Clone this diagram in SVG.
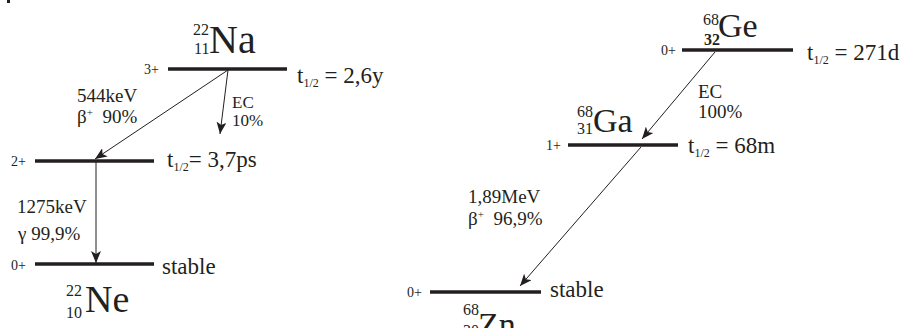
<svg xmlns="http://www.w3.org/2000/svg" width="901" height="328" viewBox="0 0 901 328">
<style>
text{font-family:"Liberation Serif","DejaVu Serif",serif;fill:#231f20}
.lvl{stroke:#231f20;stroke-width:3.5}
.arr{stroke:#231f20;stroke-width:1;fill:none;marker-end:url(#ah)}
.spin{font-size:14px}
.lab{font-size:19px}
.big{font-size:23px}
.sub{font-size:12px}
.iso{font-size:16px}
</style>
<defs>
<marker id="ah" viewBox="0 0 12 10" refX="12" refY="5" markerWidth="12" markerHeight="10" markerUnits="userSpaceOnUse" orient="auto">
<path d="M0,0 L12,5 L0,10 L3,5 Z" fill="#231f20"/>
</marker>
</defs>
<rect x="7" y="0" width="3" height="3" fill="#231f20"/>
<g id="na22">
<line class="lvl" x1="168" y1="69" x2="287" y2="69"/>
<text class="spin" x="144" y="74">3+</text>
<text class="iso" x="193" y="35">22</text>
<text class="iso" x="194" y="54">11</text>
<text x="209" y="53" font-size="40">Na</text>
<text class="big" x="297" y="83">t<tspan class="sub" dy="4">1/2</tspan><tspan dy="-4"> = 2,6y</tspan></text>
</g>
<g id="ne22-2">
<line class="lvl" x1="35" y1="161" x2="154" y2="161"/>
<text class="spin" x="11" y="166">2+</text>
<text class="big" x="167" y="167">t<tspan class="sub" dy="4">1/2</tspan><tspan dy="-4">= 3,7ps</tspan></text>
</g>
<g id="ne22-0">
<line class="lvl" x1="35" y1="264" x2="154" y2="264"/>
<text class="spin" x="11" y="270">0+</text>
<text class="big" x="162" y="274">stable</text>
<text class="iso" x="66" y="296">22</text>
<text class="iso" x="66" y="318">10</text>
<text x="85" y="312" font-size="38">Ne</text>
</g>
<g id="ge68">
<line class="lvl" x1="682" y1="50" x2="793" y2="50"/>
<text class="spin" x="661" y="55">0+</text>
<text class="iso" x="703" y="25">68</text>
<text class="iso" x="704" y="45" font-weight="bold">32</text>
<text x="718" y="37" font-size="34">Ge</text>
<text class="big" x="807" y="60">t<tspan class="sub" dy="4">1/2</tspan><tspan dy="-4"> = 271d</tspan></text>
</g>
<g id="ga68">
<line class="lvl" x1="568" y1="145" x2="678" y2="145"/>
<text class="spin" x="546" y="150">1+</text>
<text class="iso" x="577" y="117">68</text>
<text class="iso" x="577" y="134">31</text>
<text x="593" y="132" font-size="34">Ga</text>
<text class="big" x="688" y="153">t<tspan class="sub" dy="4">1/2</tspan><tspan dy="-4"> = 68m</tspan></text>
</g>
<g id="zn68">
<line class="lvl" x1="430" y1="292" x2="541" y2="292"/>
<text class="spin" x="407" y="297">0+</text>
<text class="big" x="550" y="297">stable</text>
<text class="iso" x="463" y="315">68</text>
<text class="iso" x="463" y="336">30</text>
<text x="478" y="336" font-size="34">Zn</text>
</g>
<g id="connectors">
<line class="arr" x1="228" y1="70" x2="95" y2="159"/>
<line class="arr" x1="228" y1="70" x2="220" y2="134"/>
<line class="arr" x1="96" y1="162" x2="96" y2="263"/>
<line class="arr" x1="715" y1="52" x2="642" y2="139"/>
<line class="arr" x1="641" y1="147" x2="520" y2="286"/>
<text class="lab" x="77" y="102">544keV</text>
<text class="lab" x="77" y="123">β<tspan font-size="11" dy="-7">+</tspan><tspan dy="7" xml:space="preserve">  90%</tspan></text>
<text x="232" y="108" font-size="17">EC</text>
<text x="232" y="126" font-size="17">10%</text>
<text class="lab" x="17" y="213">1275keV</text>
<text class="lab" x="18" y="240">γ 99,9%</text>
<text class="lab" x="698" y="98">EC</text>
<text class="lab" x="698" y="118">100%</text>
<text class="lab" x="468" y="203">1,89MeV</text>
<text class="lab" x="468" y="225">β<tspan font-size="11" dy="-7">+</tspan><tspan dy="7" xml:space="preserve">  96,9%</tspan></text>
</g>
</svg>
